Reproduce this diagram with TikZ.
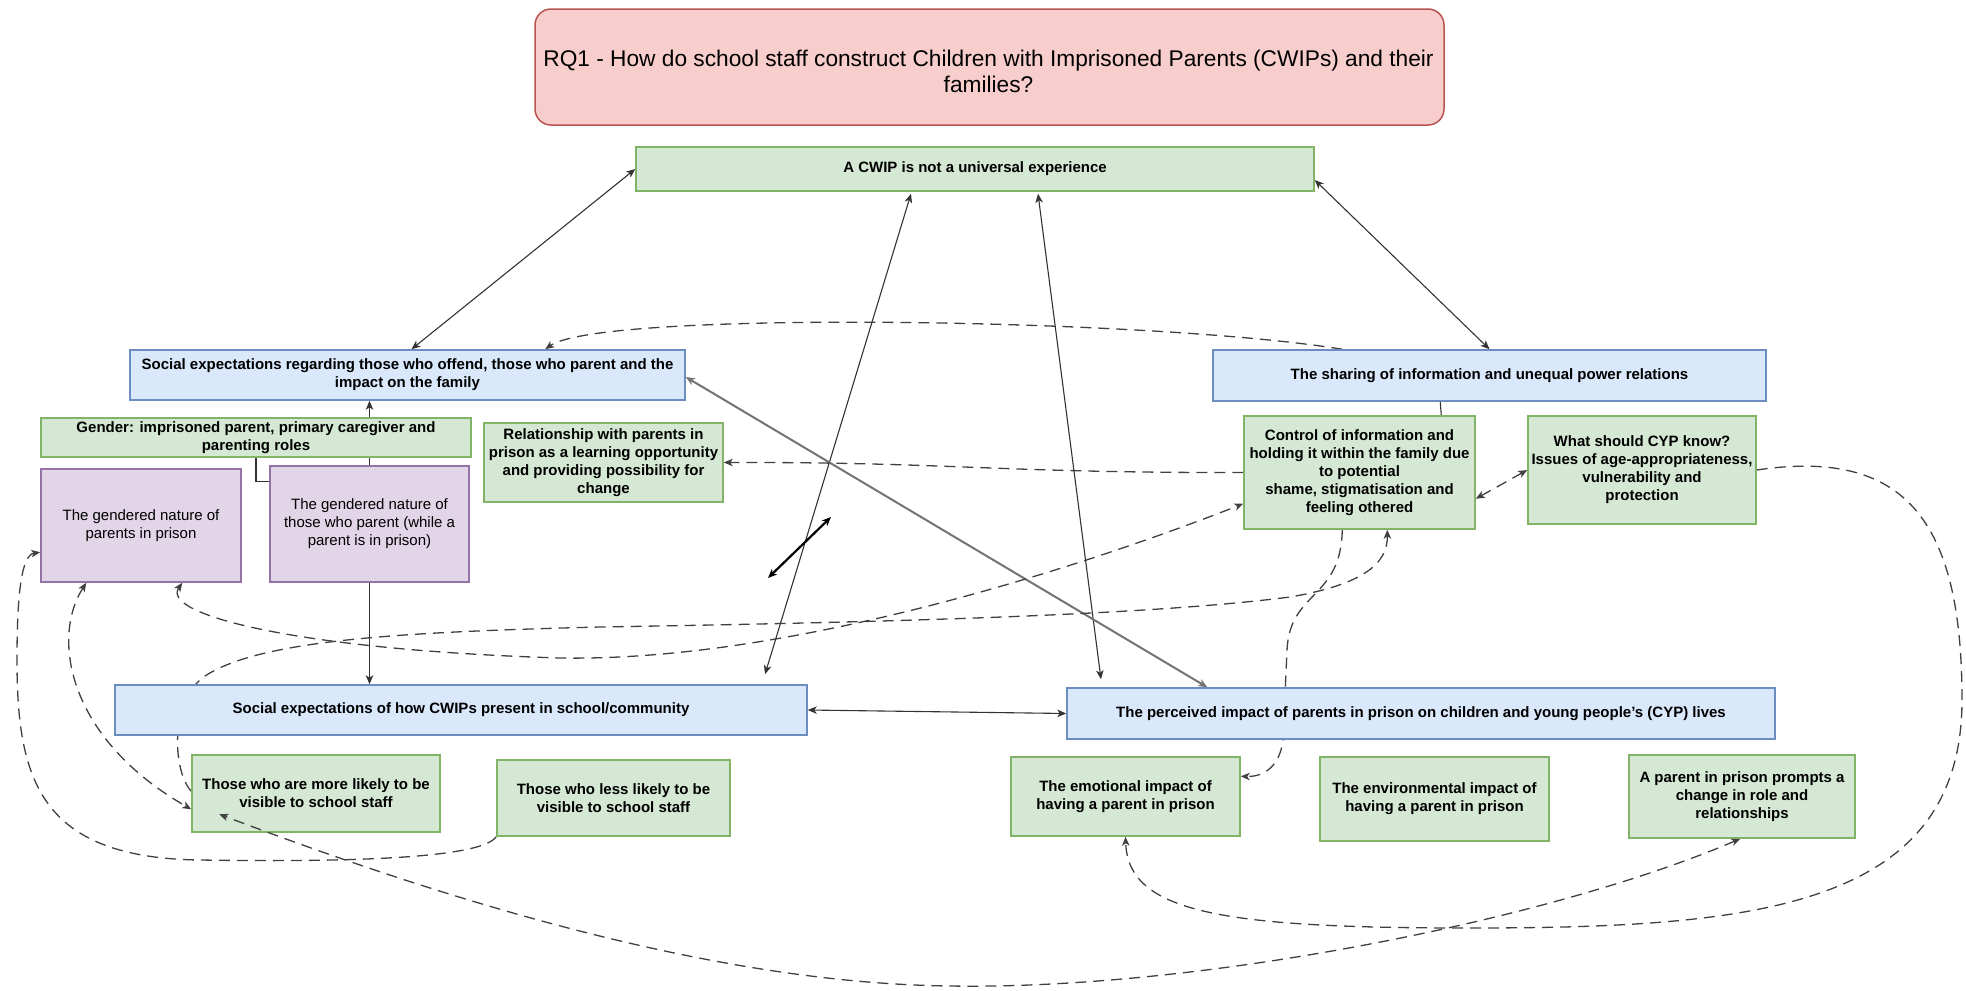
\documentclass[tikz,border=0pt]{standalone}
\usepackage{fontspec}
\setmainfont{Liberation Sans}
\usetikzlibrary{arrows.meta,calc,backgrounds}

\definecolor{bluefill}{HTML}{DAE8FC}
\definecolor{blueline}{HTML}{6C8EBF}
\definecolor{greenfill}{HTML}{D5E8D4}
\definecolor{greenline}{HTML}{82B366}
\definecolor{purplefill}{HTML}{E1D5E7}
\definecolor{purpleline}{HTML}{9673A6}
\definecolor{pinkfill}{HTML}{F8CECC}
\definecolor{pinkline}{HTML}{B85450}

\begin{document}
\begin{tikzpicture}[x=1pt,y=-1pt,
  box/.style={draw, line width=1.5pt, inner sep=2pt, align=center,
    font=\fontsize{15}{18}\selectfont\bfseries},
  bluebox/.style={box, draw=blueline, fill=bluefill},
  greenbox/.style={box, draw=greenline, fill=greenfill},
  purplebox/.style={box, draw=purpleline, fill=purplefill,
    font=\fontsize{15}{18}\selectfont},
  titlebox/.style={draw=pinkline, fill=pinkfill, line width=1.5pt,
    rounded corners=16pt},
  tip/.style={>={Stealth[length=9pt,width=7.5pt,inset=2.5pt]}},
  solidln/.style={tip, draw=black!80, line width=1.1pt},
  greyln/.style={tip, draw=black!55, line width=2pt},
  thickln/.style={tip, draw=black, line width=2.2pt},
  dashln/.style={tip, draw=black!75, line width=1.3pt, dash pattern=on 11pt off 7pt},
]
\useasboundingbox (0,0) rectangle (1966,991);

% ---------- boxes ----------
\node[titlebox, minimum width=909pt, minimum height=116pt] (title) at (989.5,67) {};
\node[align=center, font=\fontsize{22.7}{26}\selectfont] (titletext) at (988.5,71)
  {RQ1 - How do school staff construct Children with Imprisoned Parents (CWIPs) and their\\families?};

\node[greenbox, minimum width=678pt, minimum height=44pt] (cwip) at (975,169)
  {A CWIP is not a universal experience};

\node[bluebox, minimum width=555pt, minimum height=50pt] (soc1) at (407.5,375)
  {Social expectations regarding those who offend, those who parent and the\\impact on the family};
\node[bluebox, minimum width=553pt, minimum height=51pt] (share) at (1489.5,375.5)
  {The sharing of information and unequal power relations};

\node[greenbox, minimum width=430pt, minimum height=39pt] (gender) at (256,437.5)
  {Gender: imprisoned parent, primary caregiver and\\parenting roles};
\node[greenbox, minimum width=239pt, minimum height=79pt] (relat) at (603.5,462.5)
  {Relationship with parents in\\prison as a learning opportunity\\and providing possibility for\\change};

\node[purplebox, minimum width=200pt, minimum height=113pt] (purp1) at (141,525.5)
  {The gendered nature of\\parents in prison};
\node[purplebox, minimum width=199pt, minimum height=116pt] (purp2) at (369.5,524)
  {The gendered nature of\\those who parent (while a\\parent is in prison)};

\node[greenbox, minimum width=231pt, minimum height=113pt] (control) at (1359.5,472.5)
  {Control of information and\\holding it within the family due\\to potential\\shame, stigmatisation and\\feeling othered};
\node[greenbox, minimum width=228pt, minimum height=108pt] (whatcyp) at (1642,470)
  {What should CYP know?\\Issues of age-appropriateness,\\vulnerability and\\protection};

\node[bluebox, minimum width=692pt, minimum height=50pt] (soc2) at (461,710)
  {Social expectations of how CWIPs present in school/community};
\node[bluebox, minimum width=708pt, minimum height=51pt] (perceived) at (1421,713.5)
  {The perceived impact of parents in prison on children and young people's (CYP) lives};

\node[greenbox, minimum width=248pt, minimum height=77pt] (morevis) at (316,793.5)
  {Those who are more likely to be\\visible to school staff};
\node[greenbox, minimum width=233pt, minimum height=76pt] (lessvis) at (613.5,798)
  {Those who less likely to be\\visible to school staff};

\node[greenbox, minimum width=229pt, minimum height=79pt] (emot) at (1125.5,796.5)
  {The emotional impact of\\having a parent in prison};
\node[greenbox, minimum width=229pt, minimum height=84pt] (envir) at (1434.5,799)
  {The environmental impact of\\having a parent in prison};
\node[greenbox, minimum width=226pt, minimum height=83pt] (prompt) at (1742,796.5)
  {A parent in prison prompts a\\change in role and\\relationships};

% free-floating double arrow ends
\coordinate (f1) at (768,578);
\coordinate (f2) at (831,517);

% ---------- connectors (beneath the boxes) ----------
\begin{scope}[on background layer]
  % solid links
  \draw[solidln,<->] (cwip.west) -- ($(soc1.north)+(4,0)$);
  \draw[solidln,<->] ($(cwip.east)+(0,11)$) -- (share.north);
  \draw[solidln,<->] ($(cwip.south)+(-64,2)$) -- ($(soc2.north)+(304,-10)$);
  \draw[solidln,<->] ($(cwip.south)+(63,2)$) -- ($(perceived.north)+(-320,-8)$);
  \draw[greyln,<->] ($(soc1.east)+(0,2)$) -- ($(perceived.north west)+(141,0)$);
  \draw[thickln,<->] (f1) -- (f2);
  \draw[solidln,<->] (soc2.east) -- (perceived.west);
  \draw[solidln,->] (purp2.north) -- (purp2.north |- soc1.south);
  \draw[solidln] (gender.south) |- ($(purp2.north west)+(0,16)$);
  \draw[solidln,->] (purp2.south) -- (purp2.south |- soc2.north);
  \draw[solidln] ($(share.south west)+(228,0)$) -- ($(control.north west)+(198,0)$);

  % dashed links
  \draw[dashln,<->] ($(control.south east)+(0,-31)$) -- (whatcyp.west);
  \draw[dashln,->] ($(share.north west)+(130,0)$)
    .. controls (1150,318) and (600,310) .. ($(soc1.north west)+(416,0)$);
  \draw[dashln,->] (control.west) .. controls (1000,473) and (950,462) .. (relat.east);
  \draw[dashln,->] (whatcyp.east)
    .. controls (1905,448) and (1962,520) .. (1962,700)
    .. controls (1962,910) and (1750,928) .. (1468,928)
    .. controls (1220,928) and (1128,912) .. (emot.south);
  \draw[dashln,->] (lessvis.south west)
    .. controls (480,860) and (330,862) .. (200,860)
    .. controls (40,858) and (17,780) .. (17,660)
    .. controls (17,590) and (22,555) .. ($(purp1.north west)+(0,84)$);
  \draw[dashln,<->] ($(purp1.south west)+(46,0)$)
    .. controls (50,640) and (70,740) .. ($(morevis.north west)+(0,55)$);
  \draw[dashln,<->] ($(purp1.south west)+(142,0)$)
    .. controls (160,615) and (300,650) .. (560,658)
    .. controls (800,662) and (1100,560) .. ($(control.south west)+(0,-26)$);
  \draw[dashln,->] ($(morevis.north west)+(0,37)$)
    .. controls (172,770) and (170,700) .. (205,676)
    .. controls (260,640) and (400,632) .. (600,627)
    .. controls (900,622) and (1150,615) .. (1290,597)
    .. controls (1360,585) and (1388,565) .. ($(control.south west)+(144,0)$);
  \draw[dashln,->] ($(control.south west)+(99,0)$)
    .. controls (1341,600) and (1290,590) .. (1287,650)
    -- (1283,740)
    .. controls (1280,765) and (1265,777) .. ($(emot.north east)+(0,20)$);
\end{scope}

% this link crosses over the box it points into
\draw[dashln,<->] ($(prompt.south west)+(112,0)$)
  .. controls (1550,920) and (1200,990) .. (950,986)
  .. controls (700,983) and (420,890) .. ($(morevis.north west)+(28,60)$);
\end{tikzpicture}
\end{document}
